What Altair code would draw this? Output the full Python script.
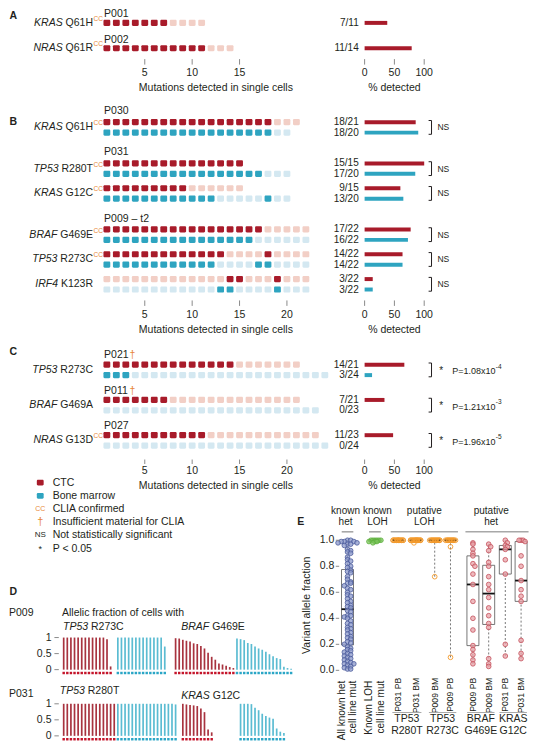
import altair as alt
import pandas as pd

# ======================= data =======================
# Panel A
A_PATIENT = ["P001", "P002"]
A_DAGGER = [False, False]
A_GENE = ["KRAS", "NRAS"]
A_MUT = ["Q61H", "Q61R"]
A_CC = [True, True]
A_CTC = ["11111110000", "11111111111000"]
A_BM = ["", ""]
A_PCT = [38, 79]          # % detected bars as drawn in the reference
A_SIG = ["", ""]
A_PMANT = ["", ""]
A_PEXP = ["", ""]
A_TICKS = [5, 10, 15]

# Panel B
B_PATIENT = ["P030", "P031", "P031", "P009 – t2", "P009 – t2", "P009 – t2"]
B_DAGGER = [False, False, False, False, False, False]
B_GENE = ["KRAS", "TP53", "KRAS", "BRAF", "TP53", "IRF4"]
B_MUT = ["Q61H", "R280T", "G12C", "G469E", "R273C", "K123R"]
B_CC = [True, True, True, True, True, False]
B_CTC = ["111111111111111111000",
         "111111111111111",
         "111111111000000",
         "1111111111111111100000",
         "1111111111111000010000",
         "0000000000000110001000"]
B_BM = ["11111111111111111100",
        "11111111111111111000",
        "11111111111100000100",
        "1111111111111111000000",
        "1111111111110000110000",
        "0000000000001100001000"]
B_SIG = ["NS", "NS", "NS", "NS", "NS", "NS"]
B_PMANT = ["", "", "", "", "", ""]
B_PEXP = ["", "", "", "", "", ""]
B_TICKS = [5, 10, 15, 20]

# Panel C
C_PATIENT = ["P021", "P011", "P027"]
C_DAGGER = [True, True, False]
C_GENE = ["TP53", "BRAF", "NRAS"]
C_MUT = ["R273C", "G469A", "G13D"]
C_CC = [False, False, True]
C_CTC = ["111111111111110000000",
         "111111100000000000000",
         "11111111111000000000000"]
C_BM = ["111000000000000000000000",
        "00000000000000000000000",
        "000000000000000000000000"]
C_SIG = ["*", "*", "*"]
C_PMANT = ["1.08", "1.21", "1.96"]
C_PEXP = ["-4", "-3", "-5"]
C_TICKS = [5, 10, 15, 20]

PCT_TICKS = [0, 50, 100]

LEGEND_TEXT = ["CTC", "Bone marrow", "CLIA confirmed", "Insufficient material for CLIA",
               "Not statistically significant", "P < 0.05"]
LEGEND_SYMBOL = ["", "", "CC", "†", "NS", "*"]

# Panel D (allelic fraction of mutant cells)
D_TICKS = [0, 0.5, 1]
D_TICK_LABELS = ["0", "0.5", "1"]
D_P009_TP53_CTC = [1, 1, 1, 1, 1, 1, 1, 1, 1, 1, 1, 1, 0.95, 0.10]
D_P009_TP53_BM = [1, 1, 1, 1, 1, 1, 1, 1, 1, 1, 1, 1, 1, 0.72]
D_P009_BRAF_CTC = [0.98, 0.97, 0.93, 0.90, 0.88, 0.82, 0.80, 0.74, 0.66, 0.53,
                   0.40, 0.31, 0.19, 0.16, 0.12, 0.08, 0.05]
D_P009_BRAF_BM = [0.97, 0.95, 0.92, 0.83, 0.80, 0.72, 0.66, 0.62, 0.56, 0.48,
                  0.42, 0.36, 0.33, 0.09, 0.05, 0.03]
D_P031_TP53_CTC = [1, 1, 1, 1, 1, 1, 1, 1, 1, 1, 1, 1, 1, 1, 1]
D_P031_TP53_BM = [1, 1, 1, 1, 1, 1, 1, 1, 1, 1, 1, 1, 1, 1, 1, 1, 0.98]
D_P031_KRAS_CTC = [1.0, 0.98, 0.96, 0.95, 0.93, 0.85, 0.74, 0.20, 0.11]
D_P031_KRAS_BM = [1.0, 1.0, 1.0, 0.99, 0.88, 0.80, 0.69, 0.62, 0.57, 0.53, 0.23, 0.13, 0.09]
D_PATIENT = ["P009", "P031"]
D_GENES = [[("TP53", "R273C"), ("BRAF", "G469E")], [("TP53", "R280T"), ("KRAS", "G12C")]]

# Panel E (variant allele fraction)
E_KNOWN_HET = [1.00, 1.00, 0.99, 0.99, 0.99, 0.98, 0.98, 0.97, 0.97, 0.96,
               0.93, 0.92, 0.91, 0.90, 0.87, 0.85, 0.84, 0.82, 0.80, 0.79,
               0.77, 0.76, 0.75, 0.72, 0.70, 0.68, 0.67, 0.67, 0.65, 0.63,
               0.62, 0.60, 0.58, 0.57, 0.55, 0.53, 0.52, 0.50, 0.49, 0.48,
               0.46, 0.45, 0.42, 0.42, 0.41, 0.40, 0.38, 0.36, 0.35, 0.33,
               0.32, 0.31, 0.29, 0.28, 0.26, 0.25, 0.24, 0.22, 0.21, 0.20,
               0.18, 0.17, 0.16, 0.15, 0.14, 0.13, 0.12, 0.11, 0.10, 0.09,
               0.08, 0.07, 0.06, 0.05, 0.05, 0.04, 0.03, 0.02, 0.01, 0.01]
E_KNOWN_LOH = [1.0, 1.0, 1.0, 0.99, 0.99, 1.0, 1.0, 0.99, 1.0, 0.98]
E_LINE1 = ["All known het", "Known LOH", "P031 PB", "P031 BM", "P009 BM", "P009 PB",
           "P009 PB", "P009 BM", "P031 PB", "P031 BM"]
E_LINE2 = ["cell line mut", "cell line mut", "", "", "", "", "", "", "", ""]
E_GROUP = ["het", "loh", "plo", "plo", "plo", "plo", "phet", "phet", "phet", "phet"]
E_VALUES = [E_KNOWN_HET, E_KNOWN_LOH, D_P031_TP53_CTC, D_P031_TP53_BM, D_P009_TP53_BM,
            D_P009_TP53_CTC, D_P009_BRAF_CTC, D_P009_BRAF_BM, D_P031_KRAS_CTC, D_P031_KRAS_BM]
E_HEADERS = [("known", "het", 0, 0), ("known", "LOH", 1, 1), ("putative", "LOH", 2, 5),
             ("putative", "het", 6, 9)]
E_GENE_PAIRS = [("TP53", "R280T", 2, 3), ("TP53", "R273C", 4, 5), ("BRAF", "G469E", 6, 7),
                ("KRAS", "G12C", 8, 9)]
E_TICKS = [0.0, 0.2, 0.4, 0.6, 0.8, 1.0]

# ======================= style / layout =======================
FONT = "Liberation Sans"
INK = "#231F20"
CTC_D, CTC_L = "#A81B2A", "#F2CFC6"
BM_D, BM_L = "#2EA4C0", "#D4E8F1"
ORANGE = "#E8873A"
D_CTC_BAR, D_BM_BAR = "#A8333F", "#5BBCD2"
D_CTC_SQ, D_BM_SQ = "#C4142A", "#2AA6C6"
W, H = 521, 734


def X(r):
    return round((r - 2) * 0.977, 2)


def Y(r):
    return round((r - 2) * 0.993, 2)


AW = {" ": 278, ".": 278, "/": 278, "=": 584, "-": 333, "–": 556, "†": 556}
for _c in "0123456789":
    AW[_c] = 556
AW.update(dict(A=667, B=667, C=722, D=722, E=667, F=611, G=778, H=722, I=278, J=500, K=667,
               L=556, M=833, N=722, O=778, P=667, Q=778, R=722, S=667, T=611, U=722, V=667,
               W=944, X=667, Y=667, Z=611))
AW.update(dict(a=556, b=556, c=500, d=556, e=556, f=278, g=556, h=556, i=222, j=222, k=500,
               l=222, m=833, n=556, o=556, p=556, q=556, r=333, s=500, t=278, u=556, v=500,
               w=722, x=500, y=500, z=500))


def tw(s, size):
    return sum(AW.get(ch, 556) for ch in s) * size / 1000.0


ONE = pd.DataFrame({"k": [0]})


def label(text, x, y, size=10.5, align="left", baseline="middle", color=INK,
          italic=False, bold=False, angle=0, dx=0, dy=0):
    mk = dict(text=text, fontSize=size, align=align, baseline=baseline, color=color, font=FONT)
    if italic:
        mk["fontStyle"] = "italic"
    if bold:
        mk["fontWeight"] = "bold"
    if angle:
        mk["angle"] = angle
    if dx:
        mk["dx"] = round(dx, 2)
    if dy:
        mk["dy"] = dy
    return alt.Chart(ONE).mark_text(**mk).encode(x=alt.value(X(x)), y=alt.value(Y(y)))


def seg(x1, x2, y1, y2, color="#999999", width=1.0, dash=None):
    mk = dict(color=color, strokeWidth=width)
    if dash:
        mk["strokeDash"] = dash
    return alt.Chart(ONE).mark_rule(**mk).encode(
        x=alt.value(X(x1)), x2=alt.value(X(x2)), y=alt.value(Y(y1)), y2=alt.value(Y(y2)))


def lin(domain, rng):
    return alt.Scale(domain=domain, range=rng, nice=False, zero=False)


# ======================= panels A-C =======================
def grid_panel(letter, letter_y, top, gaps, axis_off, patient, dagger, gene, mut, cc,
               ctc, bm, sig, pmant, pexp, ticks, pct_override=None):
    lg, cb, gg, pg = gaps
    rows, pats = [], []
    prev, last = None, None
    for i in range(len(gene)):
        if patient[i] != prev:
            s = 0.0 if last is None else last + pg
            pats.append((patient[i], s, dagger[i]))
            c = s + lg
        else:
            c = last + gg
        b = c + cb if bm[i] else None
        last = b if b is not None else c
        rows.append((c, b))
        prev = patient[i]

    ysc = lin([0, 10], [Y(top), Y(top + 100)])
    gsc = lin([0.5, 24.5], [X(98.35), X(331.15)])
    psc = lin([0, 100], [X(367), X(428)])

    def ry(slot):
        return top + 10 * slot

    L = [label(letter, 3.5, letter_y, size=10.5, bold=True)]
    cells, bars = [], []
    for i, (c, b) in enumerate(rows):
        for j, ch in enumerate(ctc[i]):
            cells.append({"idx": j + 1, "slot": c, "state": "CTC" + ch})
        n, d = len(ctc[i]), ctc[i].count("1")
        pct = pct_override[i] if pct_override else 100.0 * d / n
        bars.append({"slot": c, "pct": pct, "lab": f"{d}/{n}", "kind": "CTC"})
        if b is not None:
            for j, ch in enumerate(bm[i]):
                cells.append({"idx": j + 1, "slot": b, "state": "BM" + ch})
            n, d = len(bm[i]), bm[i].count("1")
            bars.append({"slot": b, "pct": 100.0 * d / n, "lab": f"{d}/{n}", "kind": "BM"})

    L.append(alt.Chart(pd.DataFrame(cells)).transform_calculate(
        xa="datum.idx - 0.36", xb="datum.idx + 0.36",
        ya="datum.slot - 0.31", yb="datum.slot + 0.31"
    ).mark_rect(cornerRadius=1.2).encode(
        x=alt.X("xa:Q", scale=gsc, axis=None), x2="xb:Q",
        y=alt.Y("ya:Q", scale=ysc, axis=None), y2="yb:Q",
        color=alt.Color("state:N", scale=alt.Scale(domain=["CTC1", "CTC0", "BM1", "BM0"],
                                                   range=[CTC_D, CTC_L, BM_D, BM_L]), legend=None)))

    bdf = pd.DataFrame(bars)
    L.append(alt.Chart(bdf).transform_calculate(
        z="0", ya="datum.slot - 0.2", yb="datum.slot + 0.2"
    ).mark_rect().encode(
        x=alt.X("z:Q", scale=psc, axis=None), x2="pct:Q",
        y=alt.Y("ya:Q", scale=ysc, axis=None), y2="yb:Q",
        color=alt.Color("kind:N", scale=alt.Scale(domain=["CTC", "BM"], range=[CTC_D, BM_D]),
                        legend=None)))
    L.append(alt.Chart(bdf).mark_text(align="right", baseline="middle", fontSize=10,
                                      color=INK, font=FONT).encode(
        x=alt.value(X(361)), y=alt.Y("slot:Q", scale=ysc, axis=None), text="lab:N"))

    # gene labels
    for i, (c, b) in enumerate(rows):
        mid = c if b is None else (c + b) / 2
        yy = ry(mid)
        L.append(label(mut[i], 89, yy, align="right"))
        L.append(label(gene[i], 89, yy, align="right", italic=True,
                       dx=-tw(" " + mut[i], 10.5)))
        if cc[i]:
            L.append(label("CC", 89.6, yy, size=6.5, color=ORANGE, dy=-4))
    # patient labels
    for p, s, dg in pats:
        L.append(label(p, 100.3, ry(s)))
        if dg:
            L.append(label("†", 100.3, ry(s), color=ORANGE, dx=tw(p, 10.5) + 1))
    # significance
    for i, (c, b) in enumerate(rows):
        if sig[i] and b is not None:
            t_, b_, m_ = ry(c - 0.17), ry(b + 0.17), ry((c + b) / 2)
            L.append(seg(435.5, 435.5, t_, b_, color=INK))
            L.append(seg(432.5, 435.5, t_, t_, color=INK))
            L.append(seg(432.5, 435.5, b_, b_, color=INK))
            if sig[i] == "NS":
                L.append(label("NS", 441.5, m_, size=8.5))
            else:
                ptxt = "P=" + pmant[i] + "x10"
                L.append(label("*", 443.5, m_ + 1, size=10))
                L.append(label(ptxt, 456.7, m_ + 1.5, size=9))
                L.append(label(pexp[i], 456.7, m_ - 3, size=6.5, dx=tw(ptxt, 9) + 0.3))
    # axes
    a1, a2, a3, a4 = axis_off
    tdf = pd.DataFrame({"t": ticks, "s": [str(t) for t in ticks]})
    L.append(alt.Chart(tdf).mark_rule(color="#8a8a8a", strokeWidth=1).encode(
        x=alt.X("t:Q", scale=gsc, axis=None),
        y=alt.value(Y(ry(last + a1))), y2=alt.value(Y(ry(last + a2)))))
    L.append(alt.Chart(tdf).mark_text(fontSize=10.5, baseline="middle", color=INK, font=FONT).encode(
        x=alt.X("t:Q", scale=gsc, axis=None), y=alt.value(Y(ry(last + a3))), text="s:N"))
    L.append(label("Mutations detected in single cells", 214.75, ry(last + a4), align="center"))
    pdf = pd.DataFrame({"t": PCT_TICKS, "s": [str(t) for t in PCT_TICKS]})
    L.append(alt.Chart(pdf).mark_rule(color="#8a8a8a", strokeWidth=1).encode(
        x=alt.X("t:Q", scale=psc, axis=None),
        y=alt.value(Y(ry(last + a1))), y2=alt.value(Y(ry(last + a2)))))
    L.append(alt.Chart(pdf).mark_text(fontSize=10.5, baseline="middle", color=INK, font=FONT).encode(
        x=alt.X("t:Q", scale=psc, axis=None), y=alt.value(Y(ry(last + a3))), text="s:N"))
    L.append(label("% detected", 397.5, ry(last + a4), align="center"))
    return L


layers = []
layers += grid_panel("A", 10.5, 8.5, (0.85, 1.0, 1.5, 1.7), (1.1, 1.65, 2.5, 4.05),
                     A_PATIENT, A_DAGGER, A_GENE, A_MUT, A_CC, A_CTC, A_BM, A_SIG,
                     A_PMANT, A_PEXP, A_TICKS, pct_override=A_PCT)
layers += grid_panel("B", 117, 106, (1.1, 1.05, 1.45, 2.0), (1.1, 1.65, 2.55, 4.1),
                     B_PATIENT, B_DAGGER, B_GENE, B_MUT, B_CC, B_CTC, B_BM, B_SIG,
                     B_PMANT, B_PEXP, B_TICKS)
layers += grid_panel("C", 348.7, 351.7, (0.95, 1.05, 1.5, 1.55), (1.4, 1.85, 2.56, 4.06),
                     C_PATIENT, C_DAGGER, C_GENE, C_MUT, C_CC, C_CTC, C_BM, C_SIG,
                     C_PMANT, C_PEXP, C_TICKS)

# ======================= legend =======================
lsc = lin([0, 5], [Y(480), Y(546.5)])
ldf = pd.DataFrame({"i": list(range(len(LEGEND_TEXT))), "text": LEGEND_TEXT,
                    "sym": LEGEND_SYMBOL})
layers.append(alt.Chart(ldf).mark_text(align="left", baseline="middle", fontSize=10.5,
                                       color=INK, font=FONT).encode(
    x=alt.value(X(47.7)), y=alt.Y("i:Q", scale=lsc, axis=None), text="text:N"))
layers.append(alt.Chart(ldf).transform_filter("datum.i < 2").transform_calculate(
    ya="datum.i - 0.22", yb="datum.i + 0.22"
).mark_rect(cornerRadius=1.2).encode(
    x=alt.value(X(31.5)), x2=alt.value(X(38.5)),
    y=alt.Y("ya:Q", scale=lsc, axis=None), y2="yb:Q",
    color=alt.Color("i:N", scale=alt.Scale(domain=[0, 1], range=[CTC_D, BM_D]), legend=None)))
SYM_STYLE = {"CC": (7, ORANGE), "†": (11, ORANGE), "NS": (8, INK), "*": (9, INK)}
for k, sym in enumerate(LEGEND_SYMBOL):
    if sym:
        sz, col = SYM_STYLE[sym]
        layers.append(alt.Chart(ldf).transform_filter(f"datum.i == {k}").mark_text(
            align="center", baseline="middle", fontSize=sz, color=col, font=FONT).encode(
            x=alt.value(X(35)), y=alt.Y("i:Q", scale=lsc, axis=None), text="sym:N"))

# ======================= panel D =======================
def d_row(groups, starts, y0, y1):
    recs = []
    for (vals, kind), st in zip(groups, starts):
        for j, v in enumerate(vals):
            recs.append({"slot": st + j, "af": v, "kind": kind})
    df = pd.DataFrame(recs)
    xs = lin([0, 1], [X(59), X(62.7)])
    ys = lin([0, 1], [Y(y0), Y(y1)])
    out = []
    out.append(alt.Chart(df).transform_calculate(z="0").mark_rule(strokeWidth=1.7).encode(
        x=alt.X("slot:Q", scale=xs, axis=None), y=alt.Y("z:Q", scale=ys, axis=None), y2="af:Q",
        color=alt.Color("kind:N", scale=alt.Scale(domain=["CTC", "BM"], range=[D_CTC_BAR, D_BM_BAR]),
                        legend=None)))
    out.append(alt.Chart(df).transform_calculate(bb="-0.105").mark_square(size=6, opacity=1).encode(
        x=alt.X("slot:Q", scale=xs, axis=None), y=alt.Y("bb:Q", scale=ys, axis=None),
        color=alt.Color("kind:N", scale=alt.Scale(domain=["CTC", "BM"], range=[D_CTC_SQ, D_BM_SQ]),
                        legend=None)))
    tdf = pd.DataFrame({"t": D_TICKS, "s": D_TICK_LABELS})
    out.append(alt.Chart(tdf).mark_text(align="right", baseline="middle", fontSize=10.5,
                                        color=INK, font=FONT).encode(
        x=alt.value(X(46.5)), y=alt.Y("t:Q", scale=ys, axis=None), text="s:N"))
    out.append(alt.Chart(tdf).mark_rule(color="#8a8a8a").encode(
        x=alt.value(X(49.5)), x2=alt.value(X(54)), y=alt.Y("t:Q", scale=ys, axis=None)))
    return out


layers.append(label("D", 3.5, 590, bold=True))
layers.append(label(D_PATIENT[0], 3, 611))
layers.append(label("Allelic fraction of cells with", 57.3, 611))
layers.append(label(D_PATIENT[1], 3, 693.3))
D_LABEL_POS = [[(58.3, 625.5), (179.3, 625.5)], [(55, 690), (179.3, 695)]]
for r in range(2):
    for (g, m), (lx, ly) in zip(D_GENES[r], D_LABEL_POS[r]):
        layers.append(label(g, lx, ly, italic=True))
        layers.append(label(m, lx, ly, dx=tw(g + " ", 10.5)))
layers += d_row([(D_P009_TP53_CTC, "CTC"), (D_P009_TP53_BM, "BM"),
                 (D_P009_BRAF_CTC, "CTC"), (D_P009_BRAF_BM, "BM")],
                [0, 15, 31, 48], 668.3, 636)
layers += d_row([(D_P031_TP53_CTC, "CTC"), (D_P031_TP53_BM, "BM"),
                 (D_P031_KRAS_CTC, "CTC"), (D_P031_KRAS_BM, "BM")],
                [0, 15, 33, 49], 735, 702.7)

# ======================= panel E =======================
E_POS = [0, 1.65, 3.05, 4.1, 5.25, 6.2, 7.55, 8.5, 9.5, 10.45]
E_HDR_SHIFT = [-0.12, 0.15, 0.0, -0.35]
E_STEP = {"het": 0.19, "loh": 0.12, "plo": 0.1, "phet": 0.12}
ex = lin([0, 1], [X(349.5), X(366.5)])
ey = lin([0, 1], [Y(669), Y(538)])

recs = []
for k, vals in enumerate(E_VALUES):
    g = E_GROUP[k]
    cnt = {}
    for v in sorted(vals, reverse=True):
        key = round(v / 0.03)
        n = cnt.get(key, 0)
        cnt[key] = n + 1
        off = [0, 1, -1, 2, -2, 3, -3][n % 7] * E_STEP[g]
        recs.append({"pos": E_POS[k], "xo": E_POS[k] + off, "v": v, "g": g})
edf = pd.DataFrame(recs)

box = alt.Chart(edf).transform_aggregate(
    q1="q1(v)", med="median(v)", q3="q3(v)", lo="min(v)", hi="max(v)", groupby=["pos"]
).transform_calculate(xl="datum.pos - 0.36", xr="datum.pos + 0.36")
layers.append(box.mark_rule(color="#555555", strokeWidth=0.8, strokeDash=[2, 2]).encode(
    x=alt.X("pos:Q", scale=ex, axis=None), y=alt.Y("lo:Q", scale=ey, axis=None), y2="q1:Q"))
layers.append(box.mark_rule(color="#555555", strokeWidth=0.8, strokeDash=[2, 2]).encode(
    x=alt.X("pos:Q", scale=ex, axis=None), y=alt.Y("q3:Q", scale=ey, axis=None), y2="hi:Q"))
layers.append(box.mark_rect(fillOpacity=0, stroke="#555555", strokeWidth=0.8).encode(
    x=alt.X("xl:Q", scale=ex, axis=None), x2="xr:Q",
    y=alt.Y("q1:Q", scale=ey, axis=None), y2="q3:Q"))
layers.append(box.mark_rule(color="#111111", strokeWidth=1.8).encode(
    x=alt.X("xl:Q", scale=ex, axis=None), x2="xr:Q", y=alt.Y("med:Q", scale=ey, axis=None)))

layers.append(alt.Chart(edf).transform_filter("datum.g != 'plo'").mark_circle(
    size=22, strokeWidth=0.8, opacity=1, fillOpacity=0.75).encode(
    x=alt.X("xo:Q", scale=ex, axis=None), y=alt.Y("v:Q", scale=ey, axis=None),
    fill=alt.Fill("g:N", scale=alt.Scale(domain=["het", "loh", "phet"],
                                         range=["#8C99CB", "#7CC55C", "#E8A3A8"]), legend=None),
    stroke=alt.Stroke("g:N", scale=alt.Scale(domain=["het", "loh", "phet"],
                                             range=["#4A5A9B", "#5DAE3E", "#C4515C"]), legend=None)))
layers.append(alt.Chart(edf).transform_filter("datum.g == 'plo'").mark_circle(
    size=22, strokeWidth=0.9, opacity=1, fillOpacity=0, stroke="#F39A2B").encode(
    x=alt.X("xo:Q", scale=ex, axis=None), y=alt.Y("v:Q", scale=ey, axis=None)))

# E axis
etdf = pd.DataFrame({"t": E_TICKS, "s": [f"{t:.1f}" for t in E_TICKS]})
layers.append(alt.Chart(etdf).mark_text(align="right", baseline="middle", fontSize=10.5,
                                        color=INK, font=FONT).encode(
    x=alt.value(X(336)), y=alt.Y("t:Q", scale=ey, axis=None), text="s:N"))
layers.append(alt.Chart(etdf).mark_rule(color="#8a8a8a").encode(
    x=alt.value(X(337.5)), x2=alt.value(X(341)), y=alt.Y("t:Q", scale=ey, axis=None)))
layers.append(label("Variant allele fraction", 308.3, 603.5, angle=270, align="center"))
layers.append(label("E", 298, 520, bold=True))

# E headers
hrecs = []
for (l1, l2, a, b), sh in zip(E_HEADERS, E_HDR_SHIFT):
    pad = 0.35 if a == b else 0.45
    hrecs.append({"l1": l1, "l2": l2, "c": (E_POS[a] + E_POS[b]) / 2 + sh,
                  "xa": E_POS[a] - pad, "xb": E_POS[b] + pad})
hdf = pd.DataFrame(hrecs)
for fld, yy in (("l1", 509), ("l2", 520)):
    layers.append(alt.Chart(hdf).mark_text(align="center", baseline="middle", fontSize=10,
                                           color=INK, font=FONT).encode(
        x=alt.X("c:Q", scale=ex, axis=None), y=alt.value(Y(yy)), text=f"{fld}:N"))
layers.append(alt.Chart(hdf).mark_rule(color="#a8a8a8", strokeWidth=1.6).encode(
    x=alt.X("xa:Q", scale=ex, axis=None), x2="xb:Q", y=alt.value(Y(529.5))))

# E category labels (rotated)
crecs = []
for k in range(len(E_LINE1)):
    two = bool(E_LINE2[k])
    crecs.append({"l1": E_LINE1[k], "l2": E_LINE2[k], "two": two,
                  "x1": E_POS[k] - (0.33 if two else 0), "x2": E_POS[k] + 0.36})
cdf = pd.DataFrame(crecs)
layers.append(alt.Chart(cdf).transform_filter("datum.two").mark_text(
    align="right", baseline="middle", angle=270, fontSize=10, color=INK, font=FONT).encode(
    x=alt.X("x1:Q", scale=ex, axis=None), y=alt.value(Y(679.5)), text="l1:N"))
layers.append(alt.Chart(cdf).transform_filter("datum.two").mark_text(
    align="right", baseline="middle", angle=270, fontSize=10, color=INK, font=FONT).encode(
    x=alt.X("x2:Q", scale=ex, axis=None), y=alt.value(Y(679.5)), text="l2:N"))
layers.append(alt.Chart(cdf).transform_filter("!datum.two").mark_text(
    align="right", baseline="middle", angle=270, fontSize=8.6, color=INK, font=FONT).encode(
    x=alt.X("x1:Q", scale=ex, axis=None), y=alt.value(Y(676.5)), text="l1:N"))

grecs = []
for g, m, a, b in E_GENE_PAIRS:
    grecs.append({"g": g, "m": m, "c": (E_POS[a] + E_POS[b]) / 2,
                  "xa": E_POS[a] - 0.35, "xb": E_POS[b] + 0.35})
gdf = pd.DataFrame(grecs)
layers.append(alt.Chart(gdf).mark_rule(color="#a8a8a8", strokeWidth=1).encode(
    x=alt.X("xa:Q", scale=ex, axis=None), x2="xb:Q", y=alt.value(Y(711.5))))
for fld, yy in (("g", 718), ("m", 730)):
    layers.append(alt.Chart(gdf).mark_text(align="center", baseline="middle", fontSize=10.5,
                                           color=INK, font=FONT).encode(
        x=alt.X("c:Q", scale=ex, axis=None), y=alt.value(Y(yy)), text=f"{fld}:N"))

# ======================= assemble =======================
chart = alt.layer(*layers).resolve_scale(
    x="independent", y="independent", color="independent", fill="independent",
    stroke="independent"
).properties(
    width=W, height=H, autosize=alt.AutoSizeParams(type="none"), padding=0
).configure_view(stroke=None).configure_text(font=FONT)

chart.save("out.html", embed_options={"renderer": "svg", "actions": False})
